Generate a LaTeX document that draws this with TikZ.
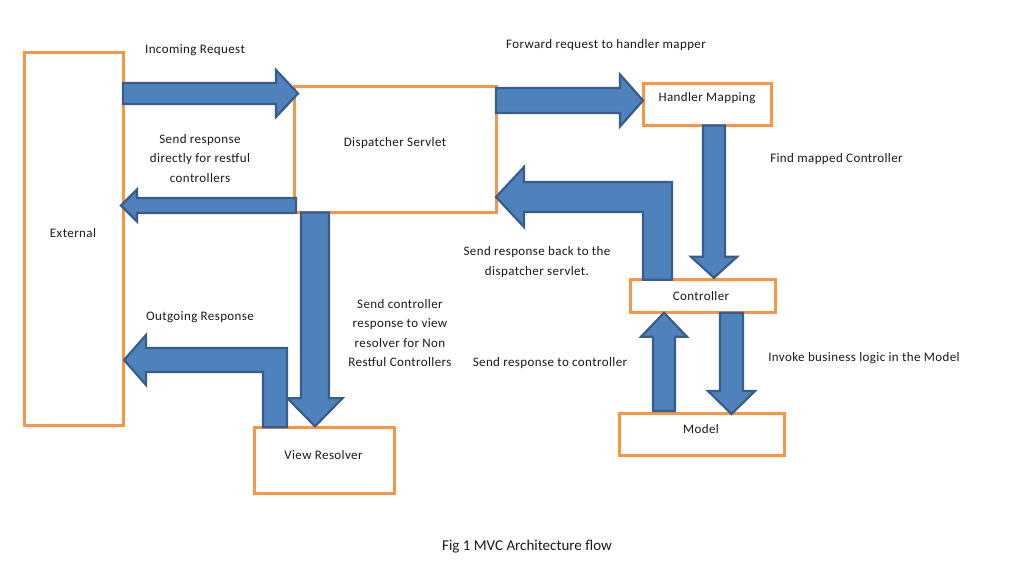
\documentclass[tikz,border=0pt]{standalone}
\usepackage{fontspec}
\setmainfont{Carlito}[LetterSpace=3]
\newfontfamily\capfont{Carlito}
\usetikzlibrary{calc}
\definecolor{boxorange}{HTML}{F79646}
\definecolor{arrowfill}{HTML}{4F81BD}
\definecolor{arrowedge}{HTML}{385D8A}
\definecolor{txt}{HTML}{1A1A1A}
\tikzset{
  box/.style={draw=boxorange, line width=3pt, fill=white, rectangle, outer sep=0pt, inner sep=0pt},
  lbl/.style={text=txt, font=\fontsize{13}{19.5}\selectfont, align=center, inner sep=0pt, yshift=-1.5pt},
  barrow/.style={fill=arrowfill, draw=arrowedge, line width=2.2pt, line join=miter},
}
\newcommand\blockarrow[5]{%
  \coordinate (bh) at ($(#2)!#5pt!(#1)$);
  \draw[barrow] ($(#1)!#3pt!90:(#2)$) -- ($(bh)!#3pt!90:(#2)$) -- ($(bh)!#4pt!90:(#2)$) -- (#2)
     -- ($(bh)!#4pt!-90:(#2)$) -- ($(bh)!#3pt!-90:(#2)$) -- ($(#1)!#3pt!-90:(#2)$) -- cycle;
}
\begin{document}
\begin{tikzpicture}[x=1pt,y=-1pt]
\useasboundingbox[fill=white] (0,0) rectangle (1015,569);
% boxes
\node[box, minimum width=99pt, minimum height=372pt] (ext) at (73.5,239) {};
\node[box, minimum width=202pt, minimum height=126pt] (disp) at (395,149.5) {};
\node[box, minimum width=128pt, minimum height=42pt] (hm) at (707,104.5) {};
\node[box, minimum width=145pt, minimum height=33pt] (ctrl) at (703.3,296.3) {};
\node[box, minimum width=165pt, minimum height=42pt] (model) at (701.7,434) {};
\node[box, minimum width=140pt, minimum height=66pt] (vr) at (324,460.3) {};
% box labels
\node[lbl] (extlbl) at (73,232) {External};
\node[lbl] (displbl) at (395,142) {Dispatcher Servlet};
\node[lbl] (hmlbl) at (707,97) {Handler Mapping};
\node[lbl] (ctrllbl) at (701,295) {Controller};
\node[lbl] (modellbl) at (701,427.3) {Model};
\node[lbl] (vrlbl) at (323.5,453.3) {View Resolver};
% arrow end points
\coordinate (inS) at (ext.east |- 0,93.5);
\coordinate (inT) at ($(disp.west |- 0,93.5)+(4,0)$);
\coordinate (dirS) at ($(disp.west |- 0,205.5)+(2,0)$);
\coordinate (dirT) at ($(ext.east |- 0,205.5)+(-2,0)$);
\coordinate (fwS) at (disp.east |- 0,100.5);
\coordinate (fwT) at (hm.west |- 0,100.5);
\coordinate (fmS) at (hm.south -| 714,0);
\coordinate (fmT) at ($(ctrl.north -| 714,0)+(0,-2)$);
\coordinate (toS) at ($(model.north -| 664,0)+(0,-2)$);
\coordinate (toT) at (ctrl.south -| 664,0);
\coordinate (ivS) at (ctrl.south -| 731.5,0);
\coordinate (ivT) at ($(model.north -| 731.5,0)+(0,1)$);
\coordinate (vrS) at (disp.south -| 315,0);
\coordinate (vrT) at ($(vr.north -| 315,0)+(0,-1)$);
% straight block arrows
\blockarrow{inS}{inT}{10.5}{23.5}{22}
\blockarrow{dirS}{dirT}{7.5}{16}{16}
\blockarrow{fwS}{fwT}{12.5}{26}{23}
\blockarrow{fmS}{fmT}{11}{23}{21}
\blockarrow{toS}{toT}{11}{23}{24}
\blockarrow{ivS}{ivT}{11.5}{23.5}{23}
\blockarrow{vrS}{vrT}{14}{27.5}{28}
% bent arrow: controller back to dispatcher servlet
\coordinate (bkS) at (ctrl.north -| 657.5,0);
\coordinate (bkC) at (657.5,197);
\coordinate (bkT) at (disp.east |- 0,197);
\draw[barrow] ($(bkS)+(14.5,0)$) -- ($(bkC)+(14.5,-15)$) -- ($(bkT)+(28,-15)$) -- ($(bkT)+(28,-30)$)
   -- (bkT) -- ($(bkT)+(28,30)$) -- ($(bkT)+(28,15)$) -- ($(bkC)+(-14.5,15)$) -- ($(bkS)+(-14.5,0)$) -- cycle;
% bent arrow: view resolver to external
\coordinate (ogS) at (vr.north -| 275,0);
\coordinate (ogC) at (275,360);
\coordinate (ogT) at ($(ext.east |- 0,360)+(1,0)$);
\draw[barrow] ($(ogS)+(12,0)$) -- ($(ogC)+(12,-12)$) -- ($(ogT)+(22,-12)$) -- ($(ogT)+(22,-25)$)
   -- (ogT) -- ($(ogT)+(22,25)$) -- ($(ogT)+(22,12)$) -- ($(ogC)+(-12,12)$) -- ($(ogS)+(-12,0)$) -- cycle;
% connector labels
\node[lbl] (l1) at (195,49) {Incoming Request};
\node[lbl] (l2) at (200,157) {Send response\\directly for restful\\controllers};
\node[lbl] (l3) at (606,44) {Forward request to handler mapper};
\node[lbl] (l4) at (836.5,158) {Find mapped Controller};
\node[lbl] (l5) at (537,260.5) {Send response back to the\\dispatcher servlet.};
\node[lbl] (l6) at (400,331.5) {Send controller\\response to view\\resolver for Non\\Restful Controllers};
\node[lbl] (l7) at (200,316) {Outgoing Response};
\node[lbl] (l8) at (550,362) {Send response to controller};
\node[lbl] (l9) at (864,357) {Invoke business logic in the Model};
\node[text=txt, font=\capfont\fontsize{15}{18}\selectfont, inner sep=0pt, yshift=-2pt] (cap) at (527,545) {Fig 1 MVC Architecture flow};
\end{tikzpicture}
\end{document}
